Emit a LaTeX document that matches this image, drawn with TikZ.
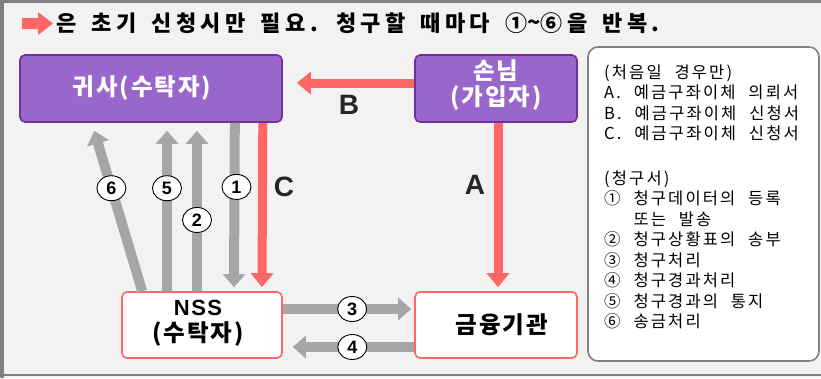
\documentclass[tikz,border=0pt]{standalone}
\usepackage{fontspec}
\usetikzlibrary{arrows.meta,shapes.geometric,backgrounds}
\newfontfamily\krT{Noto Sans CJK KR}[LetterSpace=20,WordSpace=1.6]
\newfontfamily\krB{Noto Sans CJK KR}[LetterSpace=8]
\newfontfamily\krL{Noto Sans CJK KR}[LetterSpace=13,WordSpace=2.2]
\newfontfamily\lat{Liberation Sans}
\definecolor{bgc}{HTML}{F2F2F2}
\definecolor{framec}{HTML}{808080}
\definecolor{purplef}{HTML}{9966CC}
\definecolor{purplel}{HTML}{7030A0}
\definecolor{redc}{HTML}{FF6666}
\definecolor{grayc}{HTML}{A6A6A6}
\definecolor{lettc}{HTML}{262626}
\tikzset{
  purplebox/.style={draw=purplel, fill=purplef, line width=1.6pt, rounded corners=5pt, inner sep=0pt},
  whitebox/.style={draw=redc, fill=white, line width=1.6pt, rounded corners=5pt, inner sep=0pt},
  boxtext/.style={font=\krB\bfseries\fontsize{23.5}{26}\selectfont, align=center, inner sep=0pt},
  legendbox/.style={draw=framec, fill=white, line width=1.6pt, rounded corners=10pt, inner sep=0pt},
  grayarr/.style={draw=grayc, line width=10pt, -{Triangle[width=22pt,length=13pt]}},
  redarr/.style={draw=redc, line width=9pt, -{Triangle[width=22pt,length=14pt]}},
  numlab/.style={ellipse, draw=black, fill=white, line width=0.9pt, minimum width=29pt,
    minimum height=25pt, inner sep=0pt, font=\lat\bfseries\fontsize{18}{18}\selectfont},
  letterlab/.style={font=\lat\bfseries\fontsize{28}{28}\selectfont, text=lettc, inner sep=0pt},
  legline/.style={font=\krL\fontsize{16.5}{18}\selectfont, anchor=base west, inner sep=0pt},
}
\begin{document}
\begin{tikzpicture}[x=1pt,y=-1pt]
\useasboundingbox (0,0) rectangle (821,378);
% boxes
\node[purplebox, minimum width=262pt, minimum height=67pt] (gs) at (151,88.5) {};
\node[purplebox, minimum width=162pt, minimum height=67pt] (cust) at (496,88.5) {};
\node[whitebox, minimum width=160pt, minimum height=66pt] (nss) at (202,325) {};
\node[whitebox, minimum width=162pt, minimum height=66pt] (fin) at (496,325) {};
\node[legendbox, minimum width=231pt, minimum height=314pt] (leg) at (703.5,204) {};
% box texts
\node[boxtext, text=white] (gst) at ([xshift=-9pt,yshift=1pt]gs.center) {귀사(수탁자)};
\node[boxtext, text=white] (custt) at ([xshift=0pt,yshift=3.5pt]cust.center) {손님\\(가입자)};
\node[boxtext, text=black] (nsst) at ([xshift=-4pt,yshift=2pt]nss.center) {{\lat\bfseries\fontsize{22}{22}\selectfont N\kern1.5pt S\kern1.5pt S}\\(수탁자)};
\node[boxtext, text=black] (fint) at ([xshift=6pt]fin.center) {금융기관};
\begin{scope}[on background layer]
% background and frame
\fill[bgc] (0,0) rectangle (821,378);
\fill[framec] (0,0) rectangle (821,3);
\fill[framec] (0,0) rectangle (4,378);
\fill[framec] (0,374) rectangle (821,376);
% red arrows
\draw[redarr] ([yshift=5.5pt]cust.west) -- ([xshift=14pt,yshift=5.5pt]gs.east);
\draw[redarr] ([xshift=-20pt]gs.south east) -- ([xshift=60pt,yshift=4pt]nss.north);
\draw[redarr] ([xshift=2pt]cust.south) -- ([xshift=2pt,yshift=4pt]fin.north);
\end{scope}
% title
\fill[redc] (22,18) -- (38,18) -- (38,12) -- (53,23.5) -- (38,35) -- (38,29) -- (22,29) -- cycle;
\node[anchor=base west, inner sep=0pt, font=\krT\bfseries\fontsize{22}{22}\selectfont] (title) at (56,31)
  {은 초기 신청시만 필요. 청구할 때마다 ①\raisebox{1pt}{\textasciitilde}⑥을 반복.};
% gray arrows
\draw[grayarr] ([xshift=-48pt]gs.south east) -- node[numlab, pos=0.39, xshift=2pt] (n1) {1} ([xshift=32pt,yshift=4pt]nss.north);
\draw[grayarr] ([xshift=-5pt]nss.north) -- node[numlab, pos=0.444] (n2) {2} ([xshift=46pt,yshift=-8pt]gs.south);
\draw[grayarr] ([xshift=-35pt]nss.north) -- node[numlab, pos=0.642] (n5) {5} ([xshift=16pt,yshift=-8pt]gs.south);
\draw[grayarr] ([xshift=21pt]nss.north west) -- node[numlab, pos=0.642] (n6) {6} ([xshift=75pt,yshift=-8pt]gs.south west);
\draw[grayarr] ([yshift=16pt]nss.east) -- node[numlab, pos=0.54] (n3) {3} ([xshift=-3pt,yshift=16pt]fin.west);
\draw[grayarr] ([yshift=-22pt]fin.west) -- node[numlab, pos=0.51] (n4) {4} ([xshift=10pt,yshift=-22pt]nss.east);
% letters
\node[letterlab] (lA) at (475,185) {A};
\node[letterlab] (lB) at (349,105) {B};
\node[letterlab] (lC) at (284,187) {C};
% legend text
\node[legline] (g1) at (604,78) {(처음일 경우만)};
\node[legline] (g2) at (604,98.5) {A. 예금구좌이체 의뢰서};
\node[legline] (g3) at (604,119) {B. 예금구좌이체 신청서};
\node[legline] (g4) at (604,139.5) {C. 예금구좌이체 신청서};
\node[legline] (g5) at (604,184) {(청구서)};
\node[legline] (g6) at (604,204.5) {① 청구데이터의 등록};
\node[legline] (g7) at (604,225) {\phantom{① }또는 발송};
\node[legline] (g8) at (604,245.5) {② 청구상황표의 송부};
\node[legline] (g9) at (604,266) {③ 청구처리};
\node[legline] (g10) at (604,286.5) {④ 청구경과처리};
\node[legline] (g11) at (604,307) {⑤ 청구경과의 통지};
\node[legline] (g12) at (604,327.5) {⑥ 송금처리};
\end{tikzpicture}
\end{document}
